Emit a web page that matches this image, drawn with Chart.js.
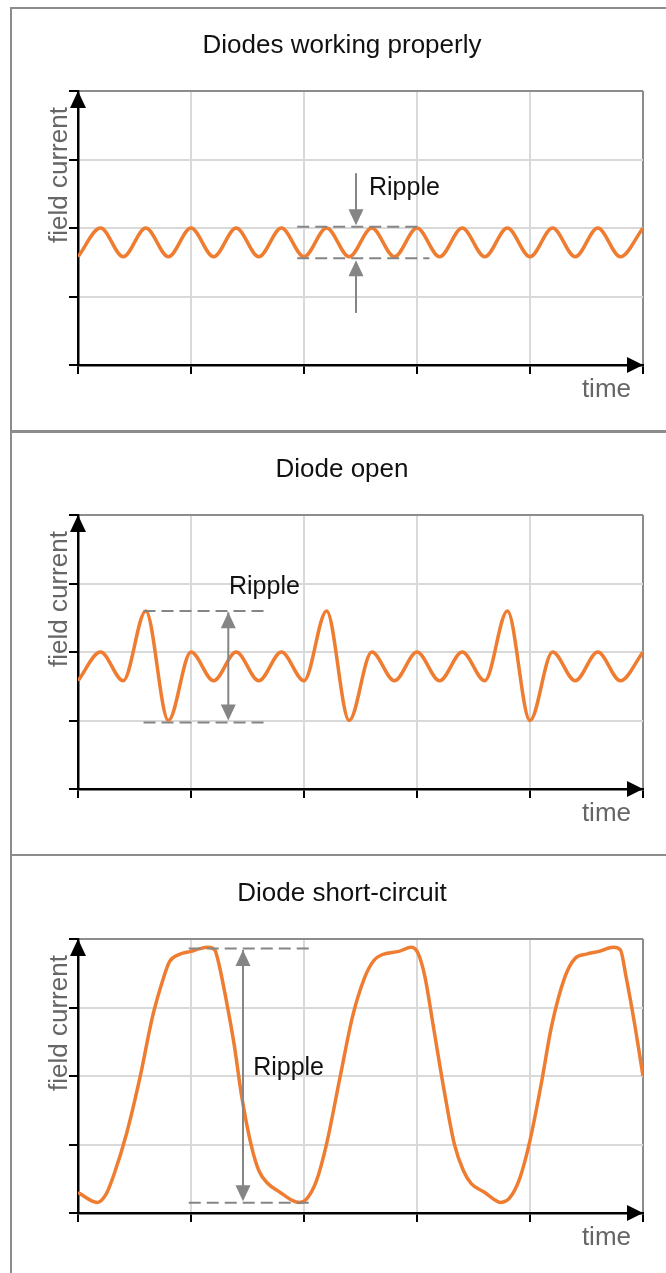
<!DOCTYPE html>
<html>
<head>
<meta charset="utf-8">
<script src="https://cdn.jsdelivr.net/npm/chart.js@4.4.0/dist/chart.umd.min.js"></script>
<style>
  html, body { margin: 0; padding: 0; overflow: hidden; background: #fff; width: 666px; height: 1273px; }
  .panel { position: absolute; left: 10px; width: 700px; height: 426px; border: 2px solid #8c8c8c; box-sizing: border-box; }
  canvas { position: absolute; left: 0; }
</style>
</head>
<body>
<div class="panel" style="top:7px"></div>
<div class="panel" style="top:430px"></div>
<div class="panel" style="top:854px"></div>
<canvas id="c1" width="666" height="424" style="top:7px"></canvas>
<canvas id="c2" width="666" height="424" style="top:431px"></canvas>
<canvas id="c3" width="666" height="424" style="top:855px"></canvas>
<script>
// time positions (grid unit = one x gridline) for the first two panels
const timeSteps = [0, 0.2, 0.4, 0.6, 0.8, 1.0, 1.2, 1.4, 1.6, 1.8, 2.0, 2.2, 2.4, 2.6, 2.8,
  3.0, 3.2, 3.4, 3.6, 3.8, 4.0, 4.2, 4.4, 4.6, 4.8, 5.0];

// diodes working properly: small ripple
const normalCurrent = [1.58, 2.0, 1.58, 2.0, 1.58, 2.0, 1.58, 2.0, 1.58, 2.0, 1.58, 2.0, 1.58,
  2.0, 1.58, 2.0, 1.58, 2.0, 1.58, 2.0, 1.58, 2.0, 1.58, 2.0, 1.58, 2.0];

// diode open: every 3rd hump is bigger
const openCurrent = [1.58, 2.0, 1.58, 2.6, 1.0, 2.0, 1.58, 2.0, 1.58, 2.0, 1.58, 2.6, 1.0,
  2.0, 1.58, 2.0, 1.58, 2.0, 1.58, 2.6, 1.0, 2.0, 1.58, 2.0, 1.58, 2.0];

// diode short-circuit: large swing
const shortTime = [0, 0.17, 0.25, 0.32, 0.43, 0.55, 0.66, 0.76, 0.81, 0.89, 1.0, 1.08, 1.15, 1.21,
  1.245, 1.3, 1.38, 1.45, 1.53, 1.6, 1.68, 1.79, 1.9, 1.96, 2.02, 2.11, 2.2, 2.32, 2.43, 2.54,
  2.62, 2.69, 2.84, 2.95, 3.01, 3.07, 3.14, 3.24, 3.33, 3.41, 3.48, 3.6, 3.69, 3.74, 3.82, 3.91,
  4.0, 4.1, 4.19, 4.31, 4.4, 4.5, 4.61, 4.74, 4.8, 4.85, 4.93, 5.0];
const shortCurrent = [0.3, 0.155, 0.28, 0.57, 1.16, 1.99, 2.87, 3.45, 3.67, 3.77, 3.82, 3.86, 3.88, 3.84,
  3.65, 3.21, 2.48, 1.69, 1.01, 0.62, 0.43, 0.3, 0.18, 0.155, 0.2, 0.47, 1.01, 1.99, 2.87, 3.45,
  3.69, 3.77, 3.82, 3.88, 3.79, 3.45, 2.77, 1.79, 1.01, 0.62, 0.43, 0.3, 0.19, 0.155, 0.22, 0.51,
  1.06, 1.89, 2.72, 3.45, 3.72, 3.78, 3.82, 3.88, 3.84, 3.45, 2.72, 2.0];

const titles = ['Diodes working properly', 'Diode open', 'Diode short-circuit'];

const ORANGE = '#ef7d31';
const GREY = '#858585';
const FONT = '"Liberation Sans", Arial, sans-serif';

function arrowHead(ctx, x, y, dx, dy, len, half) {
  // tip at x,y pointing in direction dx,dy
  ctx.beginPath();
  ctx.moveTo(x, y);
  ctx.lineTo(x - dx * len - dy * half, y - dy * len + dx * half);
  ctx.lineTo(x - dx * len + dy * half, y - dy * len - dx * half);
  ctx.closePath();
  ctx.fill();
}

const panelDecor = {
  id: 'panelDecor',
  afterDraw(chart, args, opts) {
    const { ctx, chartArea: a, scales: { x, y } } = chart;
    ctx.save();

    // axis arrows
    ctx.fillStyle = '#000';
    arrowHead(ctx, a.left, a.top, 0, -1, 17, 8);
    arrowHead(ctx, a.right, a.bottom, 1, 0, 16, 8);

    // title + axis names
    ctx.font = '26px ' + FONT;
    ctx.fillStyle = '#111';
    ctx.textAlign = 'center';
    ctx.textBaseline = 'alphabetic';
    ctx.fillText(opts.title, 342, 46);

    ctx.fillStyle = '#666';
    ctx.textAlign = 'right';
    ctx.fillText('time', 631, a.bottom + 32);
    ctx.save();
    ctx.translate(67, a.top + 84);
    ctx.rotate(-Math.PI / 2);
    ctx.textAlign = 'center';
    ctx.fillText('field current', 0, 0);
    ctx.restore();

    // ripple marking
    const r = opts.ripple;
    ctx.strokeStyle = GREY;
    ctx.fillStyle = GREY;
    ctx.lineWidth = 2;
    ctx.setLineDash([12, 6]);
    r.lines.forEach(l => {
      ctx.beginPath();
      ctx.moveTo(x.getPixelForValue(l[0]), y.getPixelForValue(l[2]));
      ctx.lineTo(x.getPixelForValue(l[1]), y.getPixelForValue(l[2]));
      ctx.stroke();
    });
    ctx.setLineDash([]);
    r.arrows.forEach(ar => {
      const px = x.getPixelForValue(ar.x);
      const y1 = y.getPixelForValue(ar.from), y2 = y.getPixelForValue(ar.to);
      const dir = y2 > y1 ? 1 : -1;
      ctx.beginPath();
      ctx.moveTo(px, y1);
      ctx.lineTo(px, y2 - dir * 10);
      ctx.stroke();
      arrowHead(ctx, px, y2, 0, dir, 16, 7.5);
      if (ar.both) arrowHead(ctx, px, y1, 0, -dir, 16, 7.5);
    });
    ctx.fillStyle = '#111';
    ctx.font = '25px ' + FONT;
    ctx.textAlign = 'left';
    ctx.fillText('Ripple', x.getPixelForValue(r.label[0]), y.getPixelForValue(r.label[1]));

    ctx.restore();
  }
};

function makeChart(id, xs, ys, title, ripple) {
  const edge = (max) => (c) => c.tick.value === max ? '#8c8c8c' : '#d9d9d9';
  new Chart(document.getElementById(id), {
    type: 'line',
    data: {
      datasets: [{
        data: xs.map((t, i) => ({ x: t, y: ys[i] })),
        borderColor: ORANGE,
        borderWidth: 3.5,
        pointRadius: 0,
        cubicInterpolationMode: 'monotone',
        fill: false
      }]
    },
    options: {
      responsive: false,
      animation: false,
      events: [],
      layout: { padding: { left: 69, right: 23, top: 84, bottom: 57 } },
      plugins: {
        legend: { display: false },
        tooltip: { enabled: false },
        panelDecor: { title: title, ripple: ripple }
      },
      scales: {
        x: {
          type: 'linear', min: 0, max: 5,
          ticks: { display: false, stepSize: 1 },
          grid: { color: edge(5), lineWidth: 2, tickLength: 9, tickColor: '#000', tickWidth: 2 },
          border: { display: true, color: '#000', width: 2.5 }
        },
        y: {
          type: 'linear', min: 0, max: 4,
          ticks: { display: false, stepSize: 1 },
          grid: { color: edge(4), lineWidth: 2, tickLength: 9, tickColor: '#000', tickWidth: 2 },
          border: { display: true, color: '#000', width: 2.5 }
        }
      }
    },
    plugins: [panelDecor]
  });
}

makeChart('c1', timeSteps, normalCurrent, titles[0], {
  lines: [[1.94, 3.03, 2.02], [1.94, 3.11, 1.56]],
  arrows: [{ x: 2.46, from: 2.8, to: 2.04 }, { x: 2.46, from: 0.76, to: 1.53 }],
  label: [2.575, 2.48]
});
makeChart('c2', timeSteps, openCurrent, titles[1], {
  lines: [[0.58, 1.67, 2.6], [0.58, 1.69, 0.97]],
  arrows: [{ x: 1.33, from: 2.58, to: 1.0, both: true }],
  label: [1.336, 2.85]
});
makeChart('c3', shortTime, shortCurrent, titles[2], {
  lines: [[0.98, 2.07, 3.86], [0.98, 2.07, 0.15]],
  arrows: [{ x: 1.46, from: 3.84, to: 0.17, both: true }],
  label: [1.55, 2.01]
});
</script>
</body>
</html>
